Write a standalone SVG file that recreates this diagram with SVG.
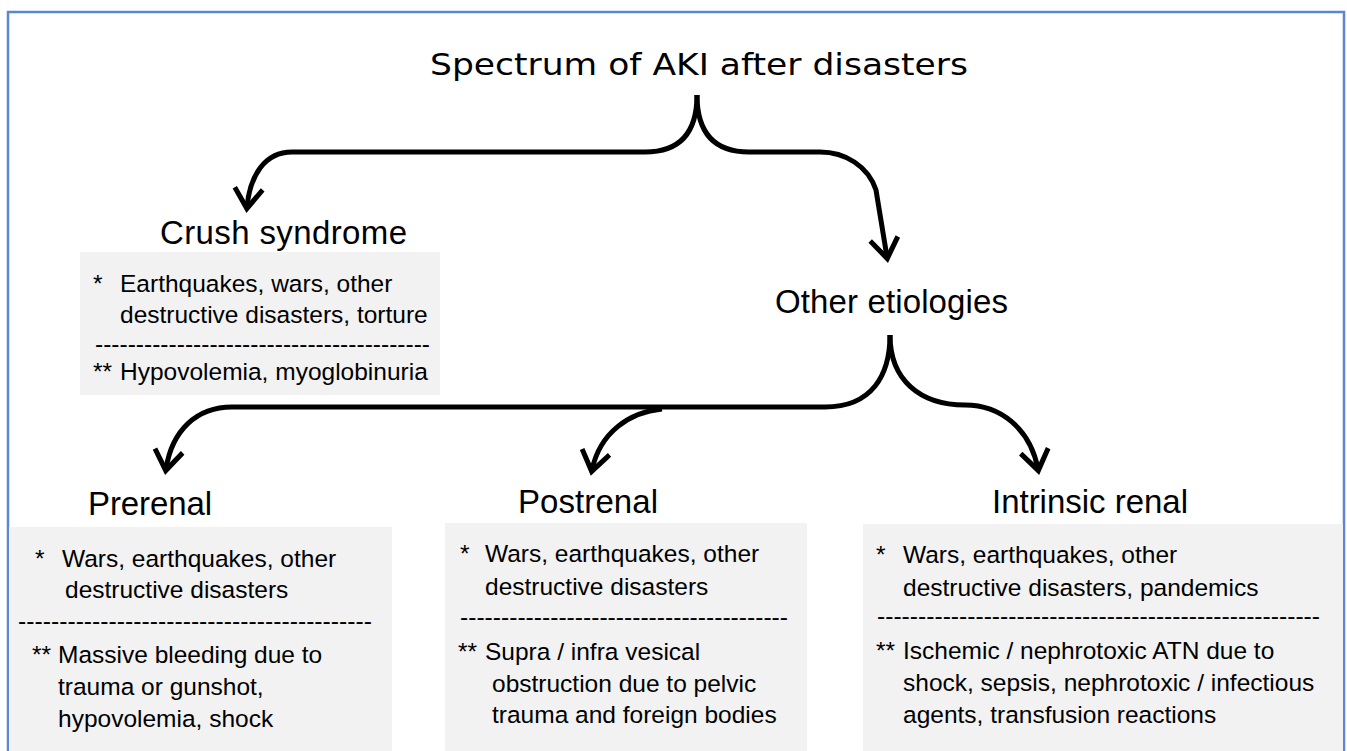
<svg xmlns="http://www.w3.org/2000/svg" width="1347" height="751" viewBox="0 0 1347 751">
<style>
.head{font-family:"Liberation Sans",Arial,sans-serif;font-size:33px;fill:#000}
.title{font-family:"DejaVu Sans",Verdana,sans-serif;font-size:31px;fill:#000}
.body{font-family:"Liberation Sans",Arial,sans-serif;font-size:24.5px;fill:#000}
.box{fill:#F2F2F2}
.conn{fill:none;stroke:#000;stroke-width:5;marker-end:url(#ah)}
.plain{fill:none;stroke:#000;stroke-width:5}
</style>
<defs>
<marker id="ah" markerUnits="userSpaceOnUse" orient="auto" markerWidth="40" markerHeight="40" refX="0" refY="0" viewBox="-25 -20 40 40" overflow="visible">
<path d="M6,0 L-17,-16 L-20,-12 L-3,0 L-20,12 L-17,16 Z" fill="#000"/>
</marker>
</defs>
<rect width="1347" height="751" fill="#fff"/>
<rect x="8" y="12" width="1336" height="770" fill="none" stroke="#5B86D1" stroke-width="2.5"/>

<g id="title"><text class="title" x="430" y="75" textLength="538" lengthAdjust="spacingAndGlyphs">Spectrum of AKI after disasters</text></g>

<g id="connectors">
<path class="conn" d="M697,95 C697,130 682,152 645,152 L292,152 C265,152 250,175 247,207"/>
<path class="conn" d="M697,95 C697,130 712,152 749,152 L820,152 C845,152 868,166 876,190 L887,257"/>
<path class="conn" d="M890,335 C890,375 872,407 825,407 L232,407 C197,407 172,430 166,469"/>
<path class="conn" d="M662,409 C630,412 600,432 592,470"/>
<path class="conn" d="M890,335 C890,380 920,405 965,405 C1000,405 1030,428 1038,469"/>
</g>

<g id="crush">
<text class="head" x="160" y="244" textLength="247">Crush syndrome</text>
<rect class="box" x="80" y="252" width="360" height="143"/>
<text class="body" x="93" y="292">*</text>
<text class="body" x="120" y="292">Earthquakes, wars, other</text>
<text class="body" x="120" y="323">destructive disasters, torture</text>
<text class="body" x="95" y="352" textLength="335" lengthAdjust="spacingAndGlyphs">-----------------------------------------</text>
<text class="body" x="93" y="380">**</text>
<text class="body" x="120" y="380">Hypovolemia, myoglobinuria</text>
</g>

<g id="other">
<text class="head" x="775" y="313" textLength="233">Other etiologies</text>
</g>

<g id="prerenal">
<text class="head" x="88" y="515" textLength="124">Prerenal</text>
<rect class="box" x="9" y="527" width="383" height="230"/>
<text class="body" x="35" y="567">*</text>
<text class="body" x="62" y="567">Wars, earthquakes, other</text>
<text class="body" x="65" y="598">destructive disasters</text>
<text class="body" x="18" y="629" textLength="354" lengthAdjust="spacingAndGlyphs">-------------------------------------------</text>
<text class="body" x="32" y="663">**</text>
<text class="body" x="58" y="663">Massive bleeding due to</text>
<text class="body" x="58" y="695">trauma or gunshot,</text>
<text class="body" x="58" y="727">hypovolemia, shock</text>
</g>

<g id="postrenal">
<text class="head" x="518" y="513" textLength="140">Postrenal</text>
<rect class="box" x="445" y="523" width="362" height="234"/>
<text class="body" x="460" y="562">*</text>
<text class="body" x="485" y="562">Wars, earthquakes, other</text>
<text class="body" x="485" y="595">destructive disasters</text>
<text class="body" x="460" y="625" textLength="328" lengthAdjust="spacingAndGlyphs">----------------------------------------</text>
<text class="body" x="458" y="660">**</text>
<text class="body" x="485" y="660">Supra / infra vesical</text>
<text class="body" x="492" y="692">obstruction due to pelvic</text>
<text class="body" x="492" y="723">trauma and foreign bodies</text>
</g>

<g id="intrinsic">
<text class="head" x="992" y="513" textLength="196">Intrinsic renal</text>
<rect class="box" x="863" y="524" width="480" height="233"/>
<text class="body" x="876" y="563">*</text>
<text class="body" x="903" y="563">Wars, earthquakes, other</text>
<text class="body" x="903" y="596">destructive disasters, pandemics</text>
<text class="body" x="877" y="624" textLength="443" lengthAdjust="spacingAndGlyphs">------------------------------------------------------</text>
<text class="body" x="876" y="659">**</text>
<text class="body" x="903" y="659">Ischemic / nephrotoxic ATN due to</text>
<text class="body" x="903" y="691">shock, sepsis, nephrotoxic / infectious</text>
<text class="body" x="903" y="723">agents, transfusion reactions</text>
</g>
</svg>
